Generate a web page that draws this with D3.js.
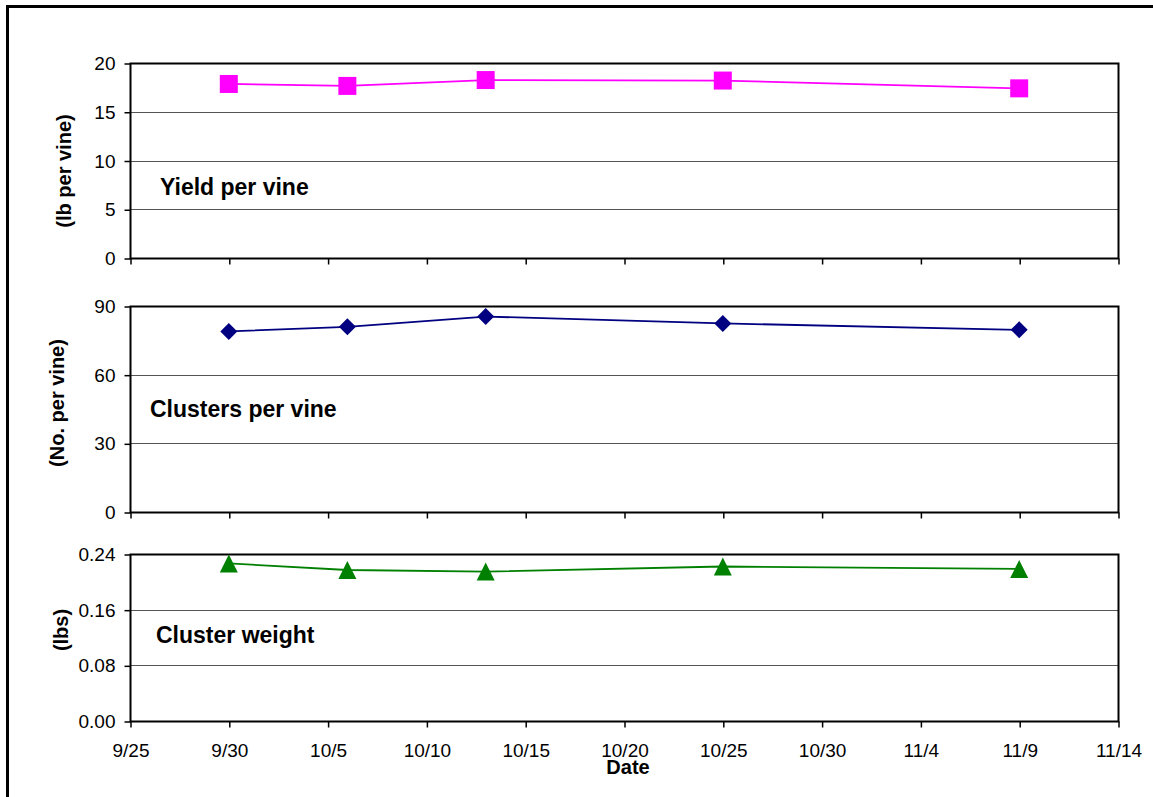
<!DOCTYPE html>
<html><head><meta charset="utf-8">
<script src="https://cdn.jsdelivr.net/npm/d3@7"></script>
<style>body{margin:0;background:#fff}svg{display:block}text{font-family:"Liberation Sans",Arial,sans-serif}</style>
</head><body>
<script>
const dates = ["2006-09-30","2006-10-06","2006-10-13","2006-10-25","2006-11-09"];
const yieldVals = [17.85, 17.65, 18.25, 18.2, 17.4];
const clusterVals = [78.9, 80.9, 85.4, 82.4, 79.6];
const weightVals = [0.2265, 0.217, 0.2147, 0.222, 0.2185];
const xTickDates = ["2006-09-25","2006-09-30","2006-10-05","2006-10-10","2006-10-15","2006-10-20","2006-10-25","2006-10-30","2006-11-04","2006-11-09","2006-11-14"];
const yieldTicks = [0,5,10,15,20];
const clusterTicks = [0,30,60,90];
const weightTicks = [0,0.08,0.16,0.24];

const W=1153,H=797;
const svg=d3.select("body").append("svg").attr("width",W).attr("height",H);
svg.append("rect").attr("x",7.5).attr("y",6.5).attr("width",W+10).attr("height",H+10)
  .attr("fill","none").attr("stroke","#000").attr("stroke-width",3);

const parse=d3.timeParse("%Y-%m-%d");
const x=d3.scaleTime().domain([parse(xTickDates[0]),parse(xTickDates[xTickDates.length-1])]).range([130,1118]);

const panels=[
 {vals:yieldVals,ticks:yieldTicks,top:63,bot:258,fmt:d3.format("d"),color:"#ff00ff",marker:"square",title:"(lb per vine)",titleX:71,titleY:171,label:"Yield per vine",lx:160,ly:195},
 {vals:clusterVals,ticks:clusterTicks,top:306,bot:512,fmt:d3.format("d"),color:"#000080",marker:"diamond",title:"(No. per vine)",titleX:64,titleY:403,label:"Clusters per vine",lx:150,ly:417},
 {vals:weightVals,ticks:weightTicks,top:554,bot:721,fmt:d3.format(".2f"),color:"#008000",marker:"triangle",title:"(lbs)",titleX:68,titleY:630,label:"Cluster weight",lx:156,ly:643}
];
const markerPath={square:"M-9,-9H9V9H-9Z",diamond:"M0,-8.5L8.5,0L0,8.5L-8.5,0Z",triangle:"M0,-9L9,9L-9,9Z"};

panels.forEach((p,i)=>{
  const y=d3.scaleLinear().domain([p.ticks[0],p.ticks[p.ticks.length-1]]).range([p.bot,p.top]);
  const g=svg.append("g");
  g.selectAll("line.grid").data(p.ticks.slice(1,-1)).join("line")
   .attr("x1",130).attr("x2",1118).attr("y1",d=>Math.round(y(d))+0.5).attr("y2",d=>Math.round(y(d))+0.5)
   .attr("stroke","#555").attr("stroke-width",1);
  g.append("rect").attr("x",130.5).attr("y",p.top+0.5).attr("width",1118-130).attr("height",p.bot-p.top)
   .attr("fill","none").attr("stroke","#000").attr("stroke-width",2);
  const ya=g.append("g").attr("transform","translate(130.5,0.5)")
    .call(d3.axisLeft(y).tickValues(p.ticks).tickFormat(p.fmt).tickSize(6).tickPadding(9));
  ya.select(".domain").remove();
  ya.selectAll("line").attr("stroke","#000").attr("stroke-width",1.5);
  ya.selectAll("text").attr("font-size",19).attr("fill","#000").attr("font-family","Liberation Sans, Arial, sans-serif");
  const xa=g.append("g").attr("transform",`translate(0.5,${p.bot+0.5})`)
    .call(d3.axisBottom(x).tickValues(xTickDates.map(parse)).tickFormat(d3.timeFormat("%-m/%-d")).tickSize(6).tickPadding(16));
  xa.select(".domain").remove();
  xa.selectAll("line").attr("stroke","#000").attr("stroke-width",1.5);
  if(i<2) xa.selectAll("text").remove();
  else xa.selectAll("text").attr("font-size",19).attr("fill","#000").attr("font-family","Liberation Sans, Arial, sans-serif");
  const pts=dates.map((d,j)=>[x(parse(d)),y(p.vals[j])]);
  g.append("path").attr("d",d3.line()(pts)).attr("fill","none").attr("stroke",p.color).attr("stroke-width",1.8);
  g.selectAll("path.m").data(pts).join("path")
   .attr("transform",d=>`translate(${d[0]},${d[1]})`)
   .attr("d",markerPath[p.marker]).attr("fill",p.color);
  g.append("text").attr("transform",`translate(${p.titleX},${p.titleY}) rotate(-90)`)
   .attr("text-anchor","middle").attr("font-size",20).attr("font-weight","bold").text(p.title);
  g.append("text").attr("x",p.lx).attr("y",p.ly).attr("font-size",23).attr("font-weight","bold").text(p.label);
});
svg.append("text").attr("x",628).attr("y",774).attr("text-anchor","middle").attr("font-size",20).attr("font-weight","bold").text("Date");
</script>
</body></html>
